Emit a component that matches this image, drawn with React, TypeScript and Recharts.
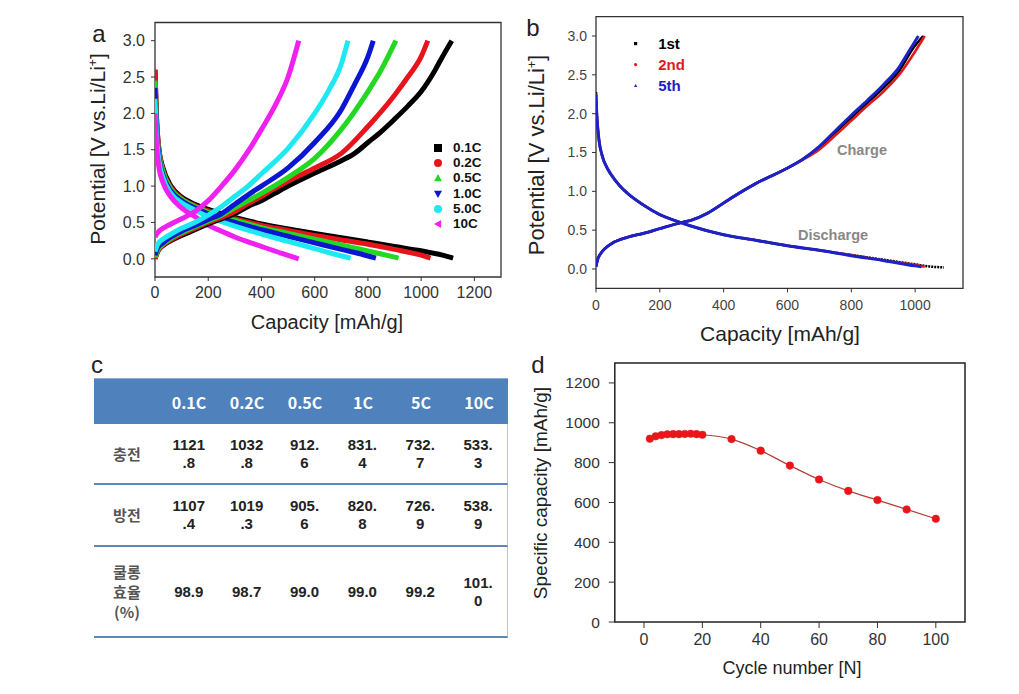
import { LineChart, Line, XAxis, YAxis, ReferenceArea } from "recharts";

type Pt = { cap: number; v: number };

// ---------- panel a : rate capability curves ----------
const rateNames = ["0.1C", "0.2C", "0.5C", "1.0C", "5.0C", "10C"];
const rateColors = ["#000000", "#e8141b", "#22d822", "#0a16d0", "#1ee8f2", "#f020f0"];
const rateMarkers = ["square", "circle", "triangle", "triangleDown", "circle", "triangleLeft"];

const dis01: Pt[] = [
  { cap: 0, v: 2.6 }, { cap: 5, v: 2.0 }, { cap: 15, v: 1.5 }, { cap: 30, v: 1.25 }, { cap: 60, v: 1.0 },
  { cap: 100, v: 0.85 }, { cap: 150, v: 0.75 }, { cap: 200, v: 0.68 }, { cap: 250, v: 0.62 }, { cap: 300, v: 0.57 },
  { cap: 400, v: 0.48 }, { cap: 500, v: 0.41 }, { cap: 600, v: 0.35 }, { cap: 700, v: 0.29 }, { cap: 800, v: 0.23 },
  { cap: 900, v: 0.17 }, { cap: 1000, v: 0.11 }, { cap: 1080, v: 0.05 }, { cap: 1120, v: 0.01 },
];
const dis02: Pt[] = [
  { cap: 0, v: 2.6 }, { cap: 5, v: 2.0 }, { cap: 15, v: 1.5 }, { cap: 30, v: 1.22 }, { cap: 60, v: 0.98 },
  { cap: 100, v: 0.83 }, { cap: 150, v: 0.73 }, { cap: 200, v: 0.66 }, { cap: 250, v: 0.6 }, { cap: 300, v: 0.55 },
  { cap: 400, v: 0.46 }, { cap: 500, v: 0.39 }, { cap: 600, v: 0.32 }, { cap: 700, v: 0.26 }, { cap: 800, v: 0.2 },
  { cap: 900, v: 0.13 }, { cap: 1000, v: 0.05 }, { cap: 1035, v: 0.01 },
];
const dis05: Pt[] = [
  { cap: 0, v: 2.45 }, { cap: 5, v: 1.9 }, { cap: 15, v: 1.45 }, { cap: 30, v: 1.2 }, { cap: 60, v: 0.96 },
  { cap: 100, v: 0.82 }, { cap: 150, v: 0.72 }, { cap: 200, v: 0.64 }, { cap: 250, v: 0.58 }, { cap: 300, v: 0.53 },
  { cap: 400, v: 0.43 }, { cap: 500, v: 0.35 }, { cap: 600, v: 0.27 }, { cap: 700, v: 0.19 }, { cap: 800, v: 0.11 },
  { cap: 880, v: 0.04 }, { cap: 915, v: 0.01 },
];
const dis10: Pt[] = [
  { cap: 0, v: 2.35 }, { cap: 5, v: 1.85 }, { cap: 15, v: 1.4 }, { cap: 30, v: 1.15 }, { cap: 60, v: 0.93 },
  { cap: 100, v: 0.8 }, { cap: 150, v: 0.7 }, { cap: 200, v: 0.62 }, { cap: 250, v: 0.56 }, { cap: 300, v: 0.5 },
  { cap: 400, v: 0.4 }, { cap: 500, v: 0.31 }, { cap: 600, v: 0.22 }, { cap: 700, v: 0.13 }, { cap: 780, v: 0.06 },
  { cap: 830, v: 0.01 },
];
const dis50: Pt[] = [
  { cap: 0, v: 2.2 }, { cap: 5, v: 1.75 }, { cap: 15, v: 1.35 }, { cap: 30, v: 1.12 }, { cap: 60, v: 0.9 },
  { cap: 100, v: 0.77 }, { cap: 150, v: 0.67 }, { cap: 200, v: 0.58 }, { cap: 250, v: 0.51 }, { cap: 300, v: 0.45 },
  { cap: 400, v: 0.34 }, { cap: 500, v: 0.24 }, { cap: 600, v: 0.14 }, { cap: 680, v: 0.06 }, { cap: 735, v: 0.01 },
];
const dis100: Pt[] = [
  { cap: 0, v: 2.0 }, { cap: 5, v: 1.6 }, { cap: 15, v: 1.25 }, { cap: 30, v: 1.05 }, { cap: 60, v: 0.85 },
  { cap: 100, v: 0.7 }, { cap: 150, v: 0.58 }, { cap: 200, v: 0.46 }, { cap: 250, v: 0.38 }, { cap: 300, v: 0.3 },
  { cap: 400, v: 0.17 }, { cap: 480, v: 0.07 }, { cap: 540, v: 0.0 },
];

const chg01: Pt[] = [
  { cap: 0, v: 0.0 }, { cap: 10, v: 0.1 }, { cap: 30, v: 0.18 }, { cap: 60, v: 0.25 }, { cap: 100, v: 0.32 },
  { cap: 150, v: 0.4 }, { cap: 200, v: 0.48 }, { cap: 250, v: 0.55 }, { cap: 300, v: 0.62 }, { cap: 350, v: 0.72 },
  { cap: 400, v: 0.8 }, { cap: 450, v: 0.9 }, { cap: 500, v: 1.0 }, { cap: 600, v: 1.18 }, { cap: 700, v: 1.35 },
  { cap: 750, v: 1.45 }, { cap: 800, v: 1.6 }, { cap: 850, v: 1.75 }, { cap: 900, v: 1.92 }, { cap: 950, v: 2.1 },
  { cap: 1000, v: 2.3 }, { cap: 1050, v: 2.58 }, { cap: 1080, v: 2.78 }, { cap: 1115, v: 3.0 },
];
const chg02: Pt[] = [
  { cap: 0, v: 0.0 }, { cap: 10, v: 0.1 }, { cap: 30, v: 0.19 }, { cap: 60, v: 0.26 }, { cap: 100, v: 0.34 },
  { cap: 150, v: 0.42 }, { cap: 200, v: 0.5 }, { cap: 250, v: 0.57 }, { cap: 300, v: 0.65 }, { cap: 350, v: 0.76 },
  { cap: 400, v: 0.86 }, { cap: 450, v: 0.97 }, { cap: 500, v: 1.07 }, { cap: 600, v: 1.25 }, { cap: 700, v: 1.45 },
  { cap: 800, v: 1.82 }, { cap: 900, v: 2.25 }, { cap: 950, v: 2.5 }, { cap: 1000, v: 2.78 }, { cap: 1025, v: 3.0 },
];
const chg05: Pt[] = [
  { cap: 0, v: 0.02 }, { cap: 10, v: 0.12 }, { cap: 30, v: 0.2 }, { cap: 60, v: 0.28 }, { cap: 100, v: 0.36 },
  { cap: 150, v: 0.44 }, { cap: 200, v: 0.52 }, { cap: 250, v: 0.6 }, { cap: 300, v: 0.7 }, { cap: 350, v: 0.8 },
  { cap: 400, v: 0.9 }, { cap: 500, v: 1.12 }, { cap: 600, v: 1.38 }, { cap: 700, v: 1.78 }, { cap: 800, v: 2.3 },
  { cap: 850, v: 2.6 }, { cap: 905, v: 3.0 },
];
const chg10: Pt[] = [
  { cap: 0, v: 0.05 }, { cap: 10, v: 0.15 }, { cap: 30, v: 0.22 }, { cap: 60, v: 0.3 }, { cap: 100, v: 0.38 },
  { cap: 150, v: 0.46 }, { cap: 200, v: 0.54 }, { cap: 250, v: 0.62 }, { cap: 300, v: 0.75 }, { cap: 350, v: 0.88 },
  { cap: 400, v: 1.0 }, { cap: 500, v: 1.25 }, { cap: 600, v: 1.6 }, { cap: 700, v: 2.05 }, { cap: 750, v: 2.4 },
  { cap: 800, v: 2.78 }, { cap: 820, v: 3.0 },
];
const chg50: Pt[] = [
  { cap: 0, v: 0.1 }, { cap: 10, v: 0.2 }, { cap: 30, v: 0.27 }, { cap: 60, v: 0.34 }, { cap: 100, v: 0.42 },
  { cap: 150, v: 0.5 }, { cap: 200, v: 0.6 }, { cap: 250, v: 0.72 }, { cap: 300, v: 0.86 }, { cap: 350, v: 1.0 },
  { cap: 400, v: 1.17 }, { cap: 500, v: 1.52 }, { cap: 600, v: 2.0 }, { cap: 650, v: 2.3 }, { cap: 700, v: 2.68 },
  { cap: 725, v: 3.0 },
];
const chg100: Pt[] = [
  { cap: 0, v: 0.3 }, { cap: 10, v: 0.36 }, { cap: 30, v: 0.42 }, { cap: 60, v: 0.48 }, { cap: 100, v: 0.55 },
  { cap: 150, v: 0.65 }, { cap: 200, v: 0.8 }, { cap: 250, v: 1.0 }, { cap: 300, v: 1.22 }, { cap: 350, v: 1.48 },
  { cap: 400, v: 1.78 }, { cap: 450, v: 2.1 }, { cap: 500, v: 2.5 }, { cap: 540, v: 3.0 },
];

const rateDischarge = [dis01, dis02, dis05, dis10, dis50, dis100];
const rateCharge = [chg01, chg02, chg05, chg10, chg50, chg100];

// ---------- panel b : cycles 1, 2, 5 ----------
const cycleNames = ["1st", "2nd", "5th"];
const cycleColors = ["#000000", "#e01a1a", "#1a22c8"];
const cycleMarkers = ["square", "circle", "triangle"];

const bDis1: Pt[] = [
  { cap: 0, v: 2.28 }, { cap: 2, v: 2.05 }, { cap: 5, v: 1.85 }, { cap: 10, v: 1.65 }, { cap: 20, v: 1.45 },
  { cap: 35, v: 1.3 }, { cap: 50, v: 1.2 }, { cap: 75, v: 1.07 }, { cap: 100, v: 0.97 }, { cap: 150, v: 0.82 },
  { cap: 200, v: 0.7 }, { cap: 250, v: 0.62 }, { cap: 300, v: 0.55 }, { cap: 400, v: 0.44 }, { cap: 500, v: 0.37 },
  { cap: 600, v: 0.3 }, { cap: 700, v: 0.24 }, { cap: 800, v: 0.18 }, { cap: 900, v: 0.12 }, { cap: 1000, v: 0.06 },
  { cap: 1050, v: 0.03 }, { cap: 1090, v: 0.02 },
];
const bDis2: Pt[] = [
  { cap: 0, v: 2.26 }, { cap: 2, v: 2.04 }, { cap: 5, v: 1.84 }, { cap: 10, v: 1.64 }, { cap: 20, v: 1.45 },
  { cap: 35, v: 1.3 }, { cap: 50, v: 1.2 }, { cap: 75, v: 1.07 }, { cap: 100, v: 0.97 }, { cap: 150, v: 0.82 },
  { cap: 200, v: 0.7 }, { cap: 250, v: 0.62 }, { cap: 300, v: 0.55 }, { cap: 400, v: 0.44 }, { cap: 500, v: 0.37 },
  { cap: 600, v: 0.3 }, { cap: 700, v: 0.24 }, { cap: 800, v: 0.18 }, { cap: 900, v: 0.11 }, { cap: 1000, v: 0.05 },
  { cap: 1030, v: 0.03 },
];
const bDis5: Pt[] = [
  { cap: 0, v: 2.25 }, { cap: 2, v: 2.03 }, { cap: 5, v: 1.84 }, { cap: 10, v: 1.64 }, { cap: 20, v: 1.45 },
  { cap: 35, v: 1.3 }, { cap: 50, v: 1.2 }, { cap: 75, v: 1.07 }, { cap: 100, v: 0.97 }, { cap: 150, v: 0.82 },
  { cap: 200, v: 0.7 }, { cap: 250, v: 0.62 }, { cap: 300, v: 0.55 }, { cap: 400, v: 0.44 }, { cap: 500, v: 0.37 },
  { cap: 600, v: 0.3 }, { cap: 700, v: 0.24 }, { cap: 800, v: 0.17 }, { cap: 900, v: 0.11 }, { cap: 1000, v: 0.04 },
  { cap: 1020, v: 0.03 },
];
const bChg1: Pt[] = [
  { cap: 0, v: 0.03 }, { cap: 5, v: 0.12 }, { cap: 15, v: 0.2 }, { cap: 30, v: 0.27 }, { cap: 50, v: 0.33 },
  { cap: 100, v: 0.41 }, { cap: 150, v: 0.46 }, { cap: 200, v: 0.52 }, { cap: 270, v: 0.6 }, { cap: 300, v: 0.63 },
  { cap: 350, v: 0.72 }, { cap: 400, v: 0.85 }, { cap: 450, v: 0.98 }, { cap: 500, v: 1.1 }, { cap: 550, v: 1.2 },
  { cap: 600, v: 1.3 }, { cap: 650, v: 1.42 }, { cap: 700, v: 1.57 }, { cap: 750, v: 1.76 }, { cap: 800, v: 1.95 },
  { cap: 850, v: 2.14 }, { cap: 900, v: 2.33 }, { cap: 950, v: 2.55 }, { cap: 990, v: 2.82 }, { cap: 1025, v: 3.0 },
];
const bChg2: Pt[] = [
  { cap: 0, v: 0.03 }, { cap: 5, v: 0.12 }, { cap: 15, v: 0.2 }, { cap: 30, v: 0.27 }, { cap: 50, v: 0.33 },
  { cap: 100, v: 0.41 }, { cap: 150, v: 0.46 }, { cap: 200, v: 0.52 }, { cap: 270, v: 0.6 }, { cap: 300, v: 0.63 },
  { cap: 350, v: 0.72 }, { cap: 400, v: 0.85 }, { cap: 450, v: 0.98 }, { cap: 500, v: 1.1 }, { cap: 550, v: 1.2 },
  { cap: 600, v: 1.3 }, { cap: 650, v: 1.41 }, { cap: 700, v: 1.54 }, { cap: 750, v: 1.72 }, { cap: 800, v: 1.91 },
  { cap: 850, v: 2.1 }, { cap: 900, v: 2.28 }, { cap: 950, v: 2.5 }, { cap: 1000, v: 2.8 }, { cap: 1030, v: 3.0 },
];
const bChg5: Pt[] = [
  { cap: 0, v: 0.03 }, { cap: 5, v: 0.12 }, { cap: 15, v: 0.2 }, { cap: 30, v: 0.27 }, { cap: 50, v: 0.33 },
  { cap: 100, v: 0.41 }, { cap: 150, v: 0.46 }, { cap: 200, v: 0.52 }, { cap: 270, v: 0.6 }, { cap: 300, v: 0.63 },
  { cap: 350, v: 0.72 }, { cap: 400, v: 0.85 }, { cap: 450, v: 0.98 }, { cap: 500, v: 1.1 }, { cap: 550, v: 1.2 },
  { cap: 600, v: 1.3 }, { cap: 650, v: 1.42 }, { cap: 700, v: 1.58 }, { cap: 750, v: 1.78 }, { cap: 800, v: 1.98 },
  { cap: 850, v: 2.17 }, { cap: 900, v: 2.37 }, { cap: 950, v: 2.6 }, { cap: 980, v: 2.8 }, { cap: 1010, v: 3.0 },
];
const cycleDischarge = [bDis1, bDis2, bDis5];
const cycleCharge = [bChg1, bChg2, bChg5];

// ---------- panel c : table ----------
const tableRates = ["0.1C", "0.2C", "0.5C", "1C", "5C", "10C"];
const tableRowLabels = [["충전"], ["방전"], ["쿨롱", "효율", "(%)"]];
const chargeCap = [1121.8, 1032.8, 912.6, 831.4, 732.7, 533.3];
const dischargeCap = [1107.4, 1019.3, 905.6, 820.8, 726.9, 538.9];
const coulombEff = [98.9, 98.7, 99.0, 99.0, 99.2, 101.0];

// ---------- panel d : cycling ----------
const cycleNo = [2, 4, 6, 8, 10, 12, 14, 16, 18, 20, 30, 40, 50, 60, 70, 80, 90, 100];
const specCap = [920, 932, 938, 942, 943, 943, 944, 945, 943, 940, 918, 860, 785, 715, 658, 612, 565, 518];

const capTicksA = [0, 200, 400, 600, 800, 1000, 1200];
const capTicksB = [0, 200, 400, 600, 800, 1000];
const potTicks = [0, 0.5, 1.0, 1.5, 2.0, 2.5, 3.0];
const cycTicks = [0, 20, 40, 60, 80, 100];
const specTicks = [0, 200, 400, 600, 800, 1000, 1200];

const FONT = "'Liberation Sans', Arial, sans-serif";
const KFONT = "'Noto Sans CJK KR', 'Liberation Sans', sans-serif";

function Marker({ kind, color, s }: { kind: string; color: string; s: number }) {
  let el;
  if (kind === "square") el = <rect x={-s} y={-s} width={2 * s} height={2 * s} fill={color} />;
  else if (kind === "circle") el = <circle r={s} fill={color} />;
  else if (kind === "triangle") el = <polygon points={`0,${-s} ${s},${s * 0.8} ${-s},${s * 0.8}`} fill={color} />;
  else if (kind === "triangleDown") el = <polygon points={`0,${s} ${s},${-s * 0.8} ${-s},${-s * 0.8}`} fill={color} />;
  else el = <polygon points={`${-s},0 ${s * 0.8},${-s} ${s * 0.8},${s}`} fill={color} />;
  const w = 2 * s + 2;
  return (
    <svg width={w} height={w} style={{ display: "block" }}>
      <g transform={`translate(${w / 2},${w / 2})`}>{el}</g>
    </svg>
  );
}

function Txt({ x, y, size, children, bold, color }: any) {
  return (
    <div
      style={{
        position: "absolute", left: x, top: y, transform: "translate(-50%,-50%)",
        fontFamily: FONT, fontSize: size, fontWeight: bold ? "bold" : "normal",
        color: color || "#222", whiteSpace: "nowrap", lineHeight: 1,
      }}
    >
      {children}
    </div>
  );
}

function VTxt({ x, y, size, children }: any) {
  return (
    <div
      style={{
        position: "absolute", left: x, top: y, transform: "translate(-50%,-50%) rotate(-90deg)",
        fontFamily: FONT, fontSize: size, color: "#222", whiteSpace: "nowrap", lineHeight: 1,
      }}
    >
      {children}
    </div>
  );
}

const tickStyle = (size: number, fill = "#333") => ({ fontSize: size, fontFamily: FONT, fill });

function PanelA() {
  return (
    <div style={{ position: "absolute", left: 0, top: 0 }}>
      <LineChart width={520} height={345} margin={{ top: 22.5, left: 115, right: 19, bottom: 38 }}>
        <XAxis dataKey="cap" type="number" domain={[0, 1300]} ticks={capTicksA} height={30}
          axisLine={false} tickSize={4} tickMargin={6} tick={tickStyle(16)} tickLine={{ stroke: "#333" }} allowDataOverflow />
        <YAxis type="number" domain={[-0.25, 3.25]} ticks={potTicks} width={40} axisLine={false}
          tickSize={4} tickMargin={6} tick={tickStyle(16)} tickLine={{ stroke: "#333" }}
          tickFormatter={(v: number) => v.toFixed(1)} allowDataOverflow />
        {rateNames.map((n, i) => (
          <Line key={"d" + n} data={rateDischarge[i]} dataKey="v" type="monotone" stroke={rateColors[i]}
            strokeWidth={5} dot={false} isAnimationActive={false} />
        ))}
        {rateNames.map((n, i) => (
          <Line key={"c" + n} data={rateCharge[i]} dataKey="v" type="monotone" stroke={rateColors[i]}
            strokeWidth={5} dot={false} isAnimationActive={false} />
        ))}
        <ReferenceArea x1={0} x2={1300} y1={-0.25} y2={3.25} fill="none" stroke="#333" strokeWidth={1.3} />
      </LineChart>
      {rateNames.map((n, i) => (
        <div key={n} style={{ position: "absolute", left: 433, top: 148 + i * 15.2 - 6, display: "flex", alignItems: "center" }}>
          <Marker kind={rateMarkers[i]} color={rateColors[i]} s={4} />
          <span style={{ marginLeft: 10, fontFamily: FONT, fontWeight: "bold", fontSize: 13.5, color: "#111", lineHeight: "12px" }}>{n}</span>
        </div>
      ))}
      <Txt x={99} y={34} size={24}>a</Txt>
      <Txt x={327} y={322} size={20}>Capacity [mAh/g]</Txt>
      <VTxt x={97} y={149} size={21}>Potential [V vs.Li/Li<sup style={{ fontSize: 12 }}>+</sup>]</VTxt>
    </div>
  );
}

function PanelB() {
  const order = [0, 1, 2];
  return (
    <div style={{ position: "absolute", left: 520, top: 0 }}>
      <LineChart width={460} height={345} margin={{ top: 16.6, left: 36, right: 17, bottom: 26.6 }}>
        <XAxis dataKey="cap" type="number" domain={[0, 1150]} ticks={capTicksB} height={30}
          axisLine={false} tickSize={4} tickMargin={7.5} tick={tickStyle(14, "#444")} tickLine={{ stroke: "#333" }} allowDataOverflow />
        <YAxis type="number" domain={[-0.25, 3.25]} ticks={potTicks} width={40} axisLine={false}
          tickSize={4} tickMargin={5} tick={tickStyle(14, "#444")} tickLine={{ stroke: "#333" }}
          tickFormatter={(v: number) => v.toFixed(1)} allowDataOverflow />
        {order.map((i) => (
          <Line key={"d" + i} data={cycleDischarge[i]} dataKey="v" type="monotone" stroke={cycleColors[i]}
            strokeWidth={i === 2 ? 3 : 2.5} strokeDasharray={i === 0 ? "2 1" : undefined} dot={false} isAnimationActive={false} />
        ))}
        {order.map((i) => (
          <Line key={"c" + i} data={cycleCharge[i]} dataKey="v" type="monotone" stroke={cycleColors[i]}
            strokeWidth={i === 2 ? 3 : 2.5} dot={false} isAnimationActive={false} />
        ))}
        <ReferenceArea x1={0} x2={1150} y1={-0.25} y2={3.25} fill="none" stroke="#333" strokeWidth={1.3} />
      </LineChart>
      {cycleNames.map((n, i) => (
        <div key={n} style={{ position: "absolute", left: 113, top: 44 + i * 21 - 8, display: "flex", alignItems: "center" }}>
          <Marker kind={cycleMarkers[i]} color={cycleColors[i]} s={1.6} />
          <span style={{ marginLeft: 20, fontFamily: FONT, fontWeight: "bold", fontSize: 15, color: cycleColors[i], lineHeight: "16px" }}>{n}</span>
        </div>
      ))}
      <Txt x={342} y={150} size={14.5} bold color="#888">Charge</Txt>
      <Txt x={313} y={235} size={14.5} bold color="#888">Discharge</Txt>
      <Txt x={13} y={28} size={24}>b</Txt>
      <Txt x={260} y={333} size={21}>Capacity [mAh/g]</Txt>
      <VTxt x={17} y={155} size={22}>Potential [V vs.Li/Li<sup style={{ fontSize: 12 }}>+</sup>]</VTxt>
    </div>
  );
}

function splitVal(v: number): string[] {
  const s = v.toFixed(1);
  return s.length > 4 ? [s.slice(0, 4), s.slice(4)] : [s];
}

function PanelC() {
  const rows = [chargeCap, dischargeCap, coulombEff];
  const rowH = [61, 62, 91];
  const cell: any = { display: "flex", flexDirection: "column", alignItems: "center", justifyContent: "center" };
  return (
    <div style={{ position: "absolute", left: 0, top: 345 }}>
      <Txt x={97} y={20} size={24}>c</Txt>
      <div style={{ position: "absolute", left: 94, top: 33, width: 414 }}>
        <div style={{ height: 45, background: "#4f81bd", display: "flex", borderTop: "1px solid #8eaad2" }}>
          <div style={{ width: 66 }} />
          {tableRates.map((r) => (
            <div key={r} style={{ ...cell, width: 58, color: "#fff", fontFamily: KFONT, fontWeight: "bold", fontSize: 16 }}>{r}</div>
          ))}
        </div>
        {rows.map((vals, ri) => (
          <div key={ri} style={{ height: rowH[ri], display: "flex", borderBottom: "2px solid #5f86bb", borderRight: "1px solid #b7c7de", boxSizing: "border-box" }}>
            <div style={{ ...cell, width: 66, fontFamily: KFONT, fontWeight: "bold", fontSize: 15, color: "#555" }}>
              {tableRowLabels[ri].map((l) => <div key={l} style={{ height: 20, lineHeight: "20px" }}>{l}</div>)}
            </div>
            {vals.map((v, ci) => (
              <div key={ci} style={{ ...cell, width: 58, fontFamily: FONT, fontWeight: "bold", fontSize: 15, color: "#222" }}>
                {splitVal(v).map((p, k) => <div key={k} style={{ height: 18, lineHeight: "18px" }}>{p}</div>)}
              </div>
            ))}
          </div>
        ))}
      </div>
    </div>
  );
}

function PanelD() {
  const data = cycleNo.map((c, i) => ({ cycle: c, cap: specCap[i] }));
  return (
    <div style={{ position: "absolute", left: 520, top: 345 }}>
      <LineChart width={470} height={349} data={data} margin={{ top: 18, left: 44.8, right: 25, bottom: 42 }}>
        <XAxis dataKey="cycle" type="number" domain={[-10, 110]} ticks={cycTicks} height={30}
          axisLine={false} tickSize={6} tickMargin={6} tick={tickStyle(16)} tickLine={{ stroke: "#333" }} allowDataOverflow />
        <YAxis type="number" domain={[0, 1300]} ticks={specTicks} width={50} axisLine={false}
          tickSize={6} tickMargin={9} tick={tickStyle(15.5)} tickLine={{ stroke: "#333" }} allowDataOverflow />
        <Line dataKey="cap" type="monotone" stroke="#b0403a" strokeWidth={1.2}
          dot={{ r: 3.8, fill: "#e8161b", stroke: "#e8161b", strokeWidth: 0.5 }} isAnimationActive={false} />
        <ReferenceArea x1={-10} x2={110} y1={0} y2={1300} fill="none" stroke="#222" strokeWidth={1.5} />
      </LineChart>
      <Txt x={18} y={20} size={24}>d</Txt>
      <Txt x={272} y={323} size={18}>Cycle number [N]</Txt>
      <VTxt x={20} y={148} size={19}>Specific capacity [mAh/g]</VTxt>
    </div>
  );
}

export default function App() {
  return (
    <div style={{ position: "absolute", left: 0, top: 0, width: 1019, height: 694, background: "#fff", overflow: "hidden" }}>
      <PanelA />
      <PanelB />
      <PanelC />
      <PanelD />
    </div>
  );
}
